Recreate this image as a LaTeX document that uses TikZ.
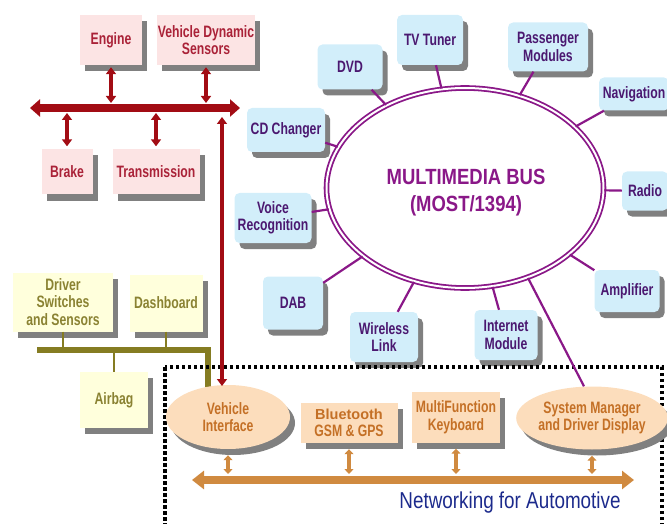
\documentclass[tikz,border=0pt]{standalone}
\usepackage{fontspec}
\setmainfont{Liberation Sans}[FakeStretch=0.74]
\newfontfamily\widefont{Liberation Sans}
\newfontfamily\netfont{Liberation Sans}[FakeStretch=0.82]
\newfontfamily\busfont{Liberation Sans}[FakeStretch=0.84]
\usetikzlibrary{arrows.meta,shadows,shapes.geometric}

\definecolor{redfill}{HTML}{FCE4E4}
\definecolor{redtext}{HTML}{AA2238}
\definecolor{redline}{HTML}{A20C14}
\definecolor{bluefill}{HTML}{D2EEFA}
\definecolor{bluetext}{HTML}{4B1870}
\definecolor{mmpurple}{HTML}{8A1888}
\definecolor{yelfill}{HTML}{FFFFDC}
\definecolor{yeltext}{HTML}{8A8232}
\definecolor{oliveline}{HTML}{857C22}
\definecolor{orfill}{HTML}{FCDDBC}
\definecolor{ortext}{HTML}{C47026}
\definecolor{orline}{HTML}{D08A40}
\definecolor{netblue}{HTML}{1C2A8C}
\definecolor{shadowgray}{HTML}{808080}

\tikzset{
  lbl/.style={font=\fontsize{16.5}{17.5}\selectfont\bfseries, align=center, inner sep=0pt},
  shade4/.style={drop shadow={shadow xshift=5pt, shadow yshift=-6pt, fill=shadowgray, opacity=1}},
  redbox/.style={lbl, shade4, rectangle, fill=redfill, text=redtext},
  bluebox/.style={lbl, shade4, rectangle, rounded corners=5pt, fill=bluefill, text=bluetext},
  yelbox/.style={lbl, shade4, rectangle, fill=yelfill, text=yeltext},
  orbox/.style={lbl, shade4, rectangle, fill=orfill, text=ortext},
  orell/.style={lbl, shade4, ellipse, fill=orfill, text=ortext},
  redbus/.style={draw=redline, line width=8pt, {Triangle[width=17pt,length=10pt]}-{Triangle[width=17pt,length=10pt]}},
  redstub/.style={draw=redline, line width=3.5pt, {Triangle[width=10pt,length=7pt]}-{Triangle[width=10pt,length=7pt]}},
  olivebus/.style={draw=oliveline, line width=6pt},
  olivestub/.style={draw=oliveline, line width=2.5pt},
  orbus/.style={draw=orline, line width=8pt, {Triangle[width=18pt,length=12pt]}-{Triangle[width=18pt,length=12pt]}},
  orstub/.style={draw=orline, line width=4pt, {Triangle[width=9pt,length=5pt]}-{Triangle[width=9pt,length=5pt]}},
  mmlink/.style={draw=mmpurple, line width=2.2pt}
}

\begin{document}
\begin{tikzpicture}[x=1pt, y=-1pt]
  \useasboundingbox (0,0) rectangle (667,524);

  % vehicle bus (red)
  \node[redbox, minimum width=62pt, minimum height=50pt] (engine) at (111,40) {Engine};
  \node[redbox, minimum width=98pt, minimum height=50pt] (vds) at (206,40) {Vehicle Dynamic\\Sensors};
  \node[redbox, minimum width=51pt, minimum height=45pt] (brake) at (67,172) {Brake};
  \node[redbox, minimum width=87pt, minimum height=45pt] (trans) at (156,172) {Transmission};
  \coordinate (rbL) at (30,108); \coordinate (rbR) at (240,108);
  \draw[redbus] (rbL) -- (rbR);
  \draw[redstub, shorten <=2pt, shorten >=5pt] (engine.south) -- (engine.south |- rbL);
  \draw[redstub, shorten <=2pt, shorten >=5pt] (vds.south) -- (vds.south |- rbL);
  \draw[redstub, shorten <=3pt, shorten >=5pt] (brake.north) -- (brake.north |- rbL);
  \draw[redstub, shorten <=3pt, shorten >=5pt] (trans.north) -- (trans.north |- rbL);

  % body bus (olive)
  \node[yelbox, minimum width=100pt, minimum height=59pt] (driver) at (63,302) {Driver\\Switches\\and Sensors};
  \node[yelbox, minimum width=73pt, minimum height=57pt] (dash) at (166,303) {Dashboard};
  \node[yelbox, minimum width=68pt, minimum height=56pt] (airbag) at (114,400) {Airbag};
  \coordinate (obL) at (37,350); \coordinate (obR) at (208,388);
  \draw[olivestub] (driver.south) -- (driver.south |- obL);
  \draw[olivestub] (dash.south) -- (dash.south |- obL);
  \draw[olivestub] (airbag.north) -- (airbag.north |- obL);
  \draw[olivebus] (obL) -| (obR);

  % multimedia bus
  \node[ellipse, draw=mmpurple, line width=1.8pt, double=white, double distance=2pt,
        minimum width=277pt, minimum height=200pt] (mm) at (465,188) {};
  \node[align=center, text=mmpurple, font=\busfont\fontsize{22}{27}\selectfont\bfseries]
    (mmlabel) at (466,193) {MULTIMEDIA BUS\\(MOST/1394)};
  \node[bluebox, minimum width=65pt, minimum height=45pt] (dvd) at (350,67) {DVD};
  \node[bluebox, minimum width=66pt, minimum height=50pt] (tv) at (430,40) {TV Tuner};
  \node[bluebox, minimum width=80pt, minimum height=49pt] (pass) at (548,47) {Passenger\\Modules};
  \node[bluebox, minimum width=70pt, minimum height=33pt] (navi) at (634,94) {Navigation};
  \node[bluebox, minimum width=78pt, minimum height=44pt] (cd) at (286,130) {CD Changer};
  \node[bluebox, minimum width=46pt, minimum height=39pt] (radio) at (645,191) {Radio};
  \node[bluebox, minimum width=77pt, minimum height=50pt] (voice) at (273,218) {Voice\\Recognition};
  \node[bluebox, minimum width=60pt, minimum height=53pt] (dab) at (293,303) {DAB};
  \node[bluebox, minimum width=68pt, minimum height=50pt] (wless) at (384,337) {Wireless\\Link};
  \node[bluebox, minimum width=63pt, minimum height=50pt] (inet) at (506,335) {Internet\\Module};
  \node[bluebox, minimum width=65pt, minimum height=42pt] (amp) at (627,291) {Amplifier};
  \foreach \n in {dvd,tv,pass,navi,cd,radio,voice,dab,wless,inet,amp}
    \draw[mmlink] (\n) -- (mm);

  % networking for automotive
  \draw[dash pattern=on 3.5pt off 2.5pt, line width=3.5pt] (165,367) rectangle (662,540);
  \node[orell, minimum width=124pt, minimum height=64pt] (vi) at (228,417) {Vehicle\\Interface};
  \node[orbox, minimum width=97pt, minimum height=40pt] (bt) at (349,423)
    {{\widefont\fontsize{14.5}{16}\selectfont\bfseries Bluetooth}\\GSM \& GPS};
  \node[orbox, minimum width=88pt, minimum height=51pt] (mfk) at (456,417) {MultiFunction\\Keyboard};
  \node[orell, minimum width=120pt, minimum height=63pt] (sm) at (592,418) {System Manager\\and Driver Display};
  \coordinate (obusL) at (192,480); \coordinate (obusR) at (634,480);
  \draw[orbus] (obusL) -- (obusR);
  \foreach \n in {vi,bt,mfk,sm}
    \draw[orstub, shorten <=6pt, shorten >=6pt] (\n.south) -- (\n.south |- obusL);
  \node[font=\netfont\fontsize{23}{25}\selectfont, text=netblue] (net) at (510,503) {Networking for Automotive};

  % links between the buses
  \coordinate (vitop) at (222,386);
  \draw[redstub, shorten >=9pt] (vitop) -- (vitop |- rbL);
  \draw[mmlink] (mm.-55) -- ([xshift=-8pt]sm.north);
\end{tikzpicture}
\end{document}
